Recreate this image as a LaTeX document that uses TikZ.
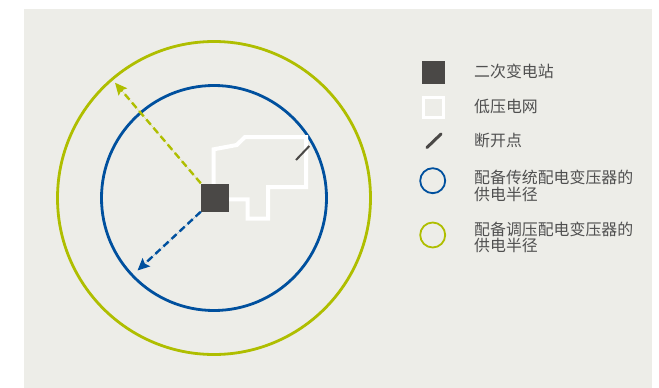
\documentclass[tikz,border=0pt]{standalone}
\usepackage{fontspec}
\newfontfamily\cjk{Noto Sans CJK SC}
\usetikzlibrary{arrows.meta}
\definecolor{bggray}{HTML}{EDEDE8}
\definecolor{nblue}{HTML}{00509E}
\definecolor{ngreen}{HTML}{AFBE00}
\definecolor{dgray}{HTML}{4A4846}
\definecolor{tgray}{HTML}{505050}
\tikzset{
  subst/.style={fill=dgray, draw=none, minimum size=28pt, inner sep=0pt},
  radarrow/.style={line width=2.4pt, dash pattern=on 7pt off 4pt, -{Stealth[length=12pt,width=11pt,inset=2pt]}},
  ring/.style={line width=2.8pt},
  lv/.style={draw=white, line width=4pt, line join=miter},
  brk/.style={draw=dgray, line width=2pt},
  legtext/.style={anchor=west, inner sep=0pt, text=tgray, font=\cjk\fontsize{15.9}{16.5}\selectfont, align=left},
}
\begin{document}
\begin{tikzpicture}[x=1pt,y=-1pt]
\useasboundingbox (0,0) rectangle (659,388);
\fill[white] (0,0) rectangle (659,388);
\fill[bggray] (24,9) rectangle (652,388);
% rings
\coordinate (c) at (214,198);
\draw[ring, draw=ngreen] (c) circle[radius=156.5];
\draw[ring, draw=nblue] (c) circle[radius=112.5];
% low voltage network
\draw[lv] (228,199.3) -- (247.7,199.3) -- (247.7,218.7) -- (268,218.7) -- (268,187) -- (306,187) -- (306,137) -- (245,137) -- (236.7,145) -- (213.7,149.3) -- (213.7,185);
% break point
\coordinate (b1) at (296,160);
\coordinate (b2) at (309.3,146);
\draw[brk] (b1) -- (b2);
% substation
\node[subst] (sq) at (215,197.5) {};
% arrows
\coordinate (gtip) at (115,82.7);
\coordinate (btip) at (137.5,270.5);
\draw[radarrow, draw=ngreen, fill=ngreen] (sq.north west) -- (gtip);
\draw[radarrow, draw=nblue, fill=nblue] (sq.south west) -- (btip);
% legend
\node[fill=dgray, minimum size=23pt, inner sep=0pt] (l1) at (433,72.5) {};
\node[draw=white, line width=3pt, minimum size=20pt, inner sep=0pt] (l2) at (433.5,107.5) {};
\coordinate (l3a) at (427,147.5);
\coordinate (l3b) at (441,134);
\draw[draw=dgray, line width=3pt, line cap=round] (l3a) -- (l3b);
\node[draw=nblue, line width=1.8pt, circle, minimum size=25pt, inner sep=0pt] (l4) at (432.7,180.7) {};
\node[draw=ngreen, line width=1.8pt, circle, minimum size=25pt, inner sep=0pt] (l5) at (432.7,235) {};
\node[legtext] (t1) at (474,71.7) {二次变电站};
\node[legtext] (t2) at (474,107) {低压电网};
\node[legtext] (t3) at (474,140.7) {断开点};
\node[legtext] (t4) at (474,186) {配备传统配电变压器的\\供电半径};
\node[legtext] (t5) at (474,237.5) {配备调压配电变压器的\\供电半径};
\end{tikzpicture}
\end{document}
